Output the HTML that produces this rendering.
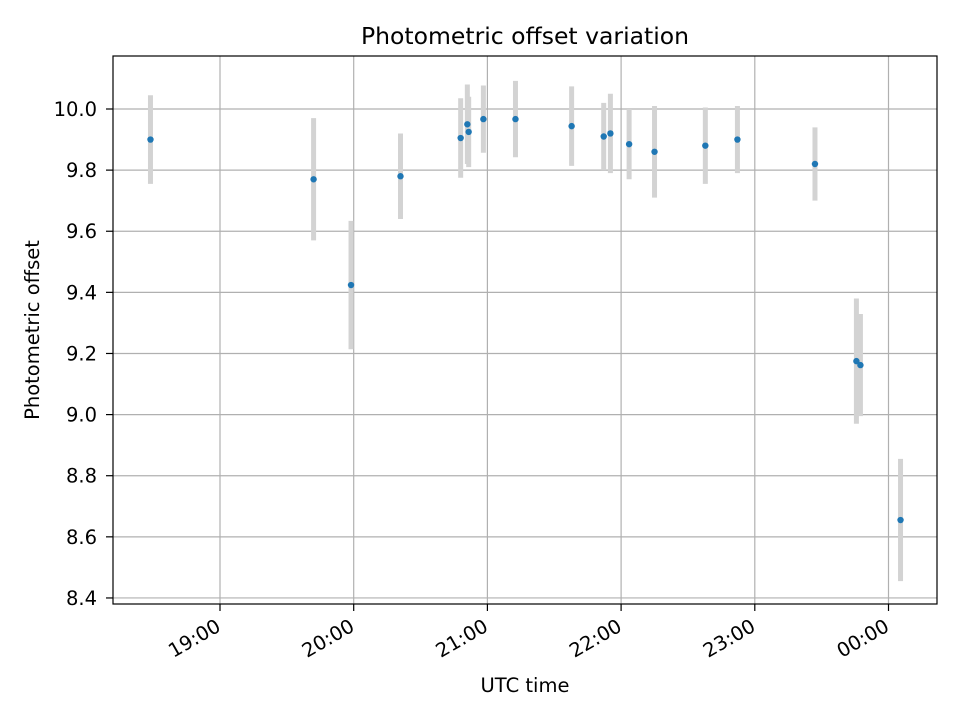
<!DOCTYPE html>
<html><head><meta charset="utf-8"><style>body{margin:0;background:#fff}svg text{font-family:"DejaVu Sans","Liberation Sans",sans-serif;fill:#000}</style></head>
<body>
<svg id="c" width="960" height="720"></svg>
<script>
const times=[18.48,19.70,19.98,20.35,20.80,20.85,20.86,20.97,21.21,21.63,21.87,21.92,22.06,22.25,22.63,22.87,23.45,23.76,23.79,24.09];
const values=[9.90,9.77,9.424,9.78,9.905,9.95,9.925,9.967,9.967,9.944,9.91,9.92,9.885,9.86,9.88,9.90,9.82,9.175,9.162,8.655];
const errors=[0.145,0.2,0.21,0.14,0.13,0.13,0.115,0.11,0.125,0.13,0.11,0.13,0.115,0.15,0.125,0.11,0.12,0.205,0.167,0.2];
const yTicks=[8.4,8.6,8.8,9.0,9.2,9.4,9.6,9.8,10.0];
const xTicks=[19,20,21,22,23,24];
const xTickLabels=["19:00","20:00","21:00","22:00","23:00","00:00"];
const L=113,R=937,T=56,B=604;
const x=t=>220+(t-19)*133.7;
const y=v=>109+(10-v)*305.6;
const s=document.getElementById('c');const NS='http://www.w3.org/2000/svg';
function mk(tag,a,txt){const e=document.createElementNS(NS,tag);for(const k in a)e.setAttribute(k,a[k]);if(txt!=null)e.textContent=txt;s.appendChild(e);return e;}
yTicks.forEach(v=>{const g=mk('line',{x1:L,x2:R,y1:y(v),y2:y(v),stroke:'#b0b0b0','stroke-width':1.2});
const tk=mk('line',{x1:L-7,x2:L,y1:y(v),y2:y(v),stroke:'#000','stroke-width':1.2});
const t=mk('text',{x:L-16,y:y(v)+7,'text-anchor':'end','font-size':19.5},v.toFixed(1));});
xTicks.forEach((h,i)=>{const g=mk('line',{x1:x(h),x2:x(h),y1:T,y2:B,stroke:'#b0b0b0','stroke-width':1.2});
const tk=mk('line',{x1:x(h),x2:x(h),y1:B,y2:B+7,stroke:'#000','stroke-width':1.2});
const t=mk('text',{x:x(h)+2,y:B+26,'text-anchor':'end','font-size':19.5,transform:`rotate(-30 ${x(h)+2} ${B+26})`},xTickLabels[i]);});
times.forEach((t,i)=>{const e=mk('line',{x1:x(t),x2:x(t),y1:y(values[i]+errors[i]),y2:y(values[i]-errors[i]),stroke:'#d3d3d3','stroke-width':5});});
times.forEach((t,i)=>{const p=mk('circle',{cx:x(t),cy:y(values[i]),r:3.2,fill:'#1f77b4'});});
const f=mk('rect',{x:L,y:T,width:R-L,height:B-T,fill:'none',stroke:'#000','stroke-width':1.2});
const ti=mk('text',{x:525,y:44,'text-anchor':'middle','font-size':23.5},'Photometric offset variation');
const xl=mk('text',{x:525,y:692,'text-anchor':'middle','font-size':19.5},'UTC time');
const yl=mk('text',{x:39,y:330,'text-anchor':'middle','font-size':19.5,transform:'rotate(-90 39 330)'},'Photometric offset');
</script>
</body></html>
